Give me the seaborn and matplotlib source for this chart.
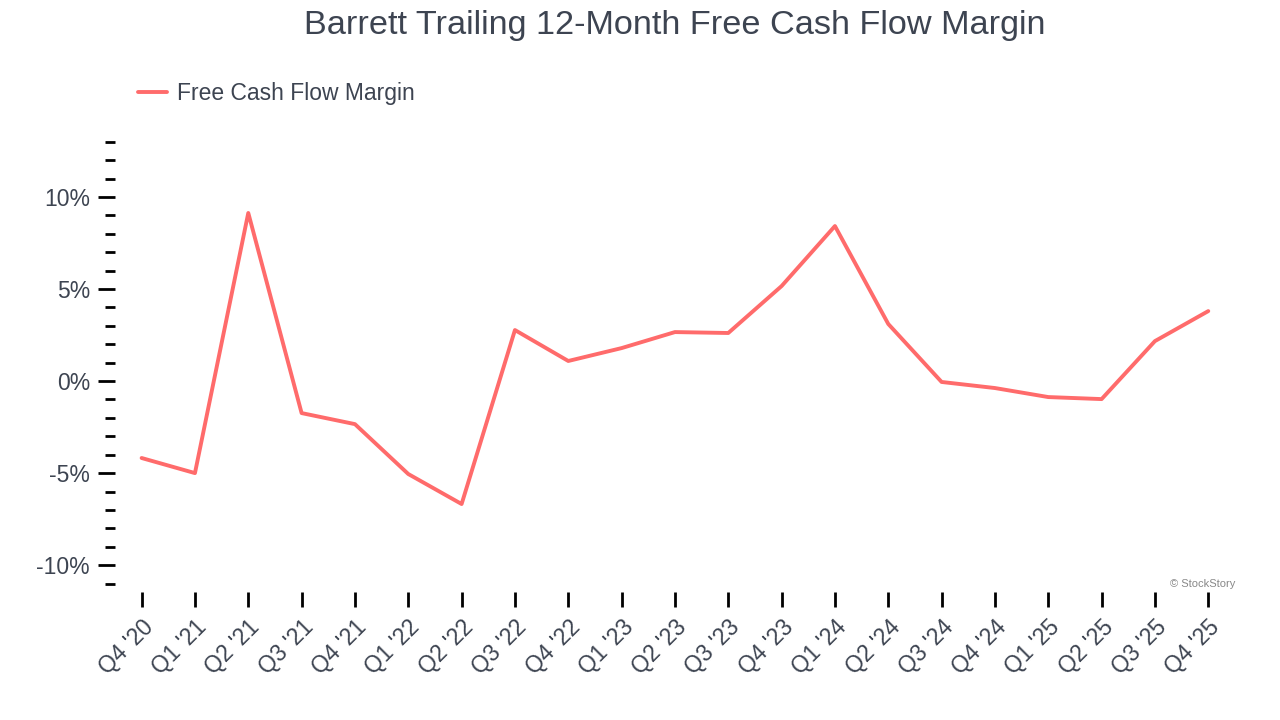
import numpy as np
import pandas as pd
import matplotlib
matplotlib.use("Agg")
import matplotlib.pyplot as plt
import seaborn as sns
from matplotlib.ticker import MultipleLocator, FuncFormatter

quarters = ["Q4 '20", "Q1 '21", "Q2 '21", "Q3 '21", "Q4 '21", "Q1 '22", "Q2 '22",
            "Q3 '22", "Q4 '22", "Q1 '23", "Q2 '23", "Q3 '23", "Q4 '23", "Q1 '24",
            "Q2 '24", "Q3 '24", "Q4 '24", "Q1 '25", "Q2 '25", "Q3 '25", "Q4 '25"]
fcf_margin = [-4.18, -5.0, 9.13, -1.74, -2.34, -5.05, -6.68, 2.77, 1.09, 1.79, 2.66,
              2.61, 5.16, 8.42, 3.10, -0.05, -0.38, -0.87, -0.98, 2.17, 3.80]

df = pd.DataFrame({"quarter": quarters, "margin": fcf_margin})
df["pos"] = np.arange(len(df))

sns.set_style("white")
plt.rcParams['font.family'] = ['Liberation Sans', 'DejaVu Sans']

text_color = "#3d4451"
line_color = "#ff6b6b"

fig = plt.figure(figsize=(12.8, 7.2), dpi=100)
ax = fig.add_axes([0.0898, 0.178, 0.875, 0.629])

sns.lineplot(data=df, x="pos", y="margin", ax=ax, color=line_color,
             linewidth=2.8, label="Free Cash Flow Margin")

ax.set_xlim(-0.5, 20.5)
ax.set_ylim(-11.45, 13.15)
ax.set_xticks(df["pos"])
ax.set_xticklabels(df["quarter"], rotation=45, ha="right", rotation_mode="anchor")
ax.yaxis.set_major_locator(MultipleLocator(5))
ax.yaxis.set_minor_locator(MultipleLocator(1))
ax.yaxis.set_major_formatter(FuncFormatter(lambda v, p: f"{v:.0f}%"))

ax.tick_params(axis="y", which="major", length=12, width=2, color="black",
               labelsize=16.5, labelcolor=text_color, pad=6)
ax.tick_params(axis="y", which="minor", length=7, width=2, color="black")
ax.tick_params(axis="x", which="major", length=11, width=2, color="black",
               labelsize=16.5, labelcolor=text_color, pad=6)
ax.tick_params(axis="both", direction="out", left=True, bottom=True)
ax.tick_params(axis="y", which="minor", left=True)

for s in ax.spines.values():
    s.set_visible(False)

ax.set_xlabel("")
ax.set_ylabel("")

# title centred over the plot area, not the figure
fig.text(0.0898 + 0.875 / 2, 0.965, "Barrett Trailing 12-Month Free Cash Flow Margin",
         fontsize=24.7, color=text_color, ha="center", va="center")

leg = ax.legend(loc="upper left", bbox_to_anchor=(0.012, 1.145), frameon=False,
                fontsize=16.5, handlelength=1.3, handletextpad=0.4, borderaxespad=0)
for t in leg.get_texts():
    t.set_color(text_color)

fig.text(0.965, 0.182, "© StockStory", fontsize=8, color="#888888", ha="right", va="bottom")

fig.savefig("out.png", dpi=100)
